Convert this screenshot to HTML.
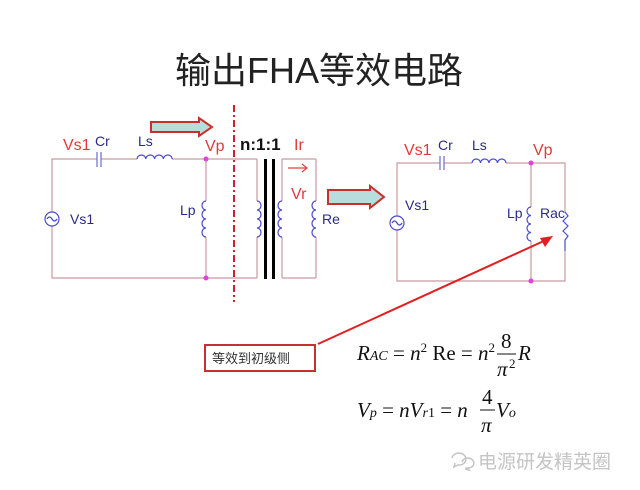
<!DOCTYPE html>
<html><head><meta charset="utf-8"><style>
html,body{margin:0;padding:0;background:#fff;}
svg{display:block;}
.t{font-family:"Liberation Sans","Noto Sans CJK SC",sans-serif;}
.s{font-family:"Liberation Serif",serif;font-size:21px;}
</style></head><body>
<svg width="640" height="490" viewBox="0 0 640 490" xmlns="http://www.w3.org/2000/svg">
<rect width="640" height="490" fill="#fff"/>
<text x="319" y="83" text-anchor="middle" class="t" font-size="36" fill="#222">输出FHA等效电路</text>

<g stroke="#c89a9f" stroke-width="1.2" fill="none">
<polyline points="97,159 52,159 52,212"/>
<polyline points="52,226 52,278 257,278"/>
<line x1="101" y1="159" x2="137" y2="159"/>
<line x1="172" y1="159" x2="257" y2="159"/>
<line x1="206" y1="159" x2="206" y2="201"/>
<line x1="206" y1="237" x2="206" y2="278"/>
<line x1="257" y1="159" x2="257" y2="201"/>
<line x1="257" y1="237" x2="257" y2="278"/>
<line x1="282" y1="159" x2="316" y2="159"/>
<line x1="282" y1="278" x2="316" y2="278"/>
<line x1="282" y1="159" x2="282" y2="201"/>
<line x1="282" y1="237" x2="282" y2="278"/>
<line x1="316" y1="159" x2="316" y2="201"/>
<line x1="316" y1="237" x2="316" y2="278"/>
</g>
<g stroke="#6a6ad0" stroke-width="1.2">
<line x1="97" y1="152" x2="97" y2="167"/><line x1="101" y1="152" x2="101" y2="167"/>
</g>
<g stroke="#4a4ad0" stroke-width="1.2" fill="none">
<path d="M137,159 a4.4,4 0 0 1 8.8,0 a4.4,4 0 0 1 8.8,0 a4.4,4 0 0 1 8.8,0 a4.4,4 0 0 1 8.8,0"/>
<path d="M206,201 a4,4.5 0 0 0 0,9 a4,4.5 0 0 0 0,9 a4,4.5 0 0 0 0,9 a4,4.5 0 0 0 0,9"/>
<path d="M257,201 a4,4.5 0 0 1 0,9 a4,4.5 0 0 1 0,9 a4,4.5 0 0 1 0,9 a4,4.5 0 0 1 0,9"/>
<path d="M282,201 a4,4.5 0 0 0 0,9 a4,4.5 0 0 0 0,9 a4,4.5 0 0 0 0,9 a4,4.5 0 0 0 0,9"/>
<path d="M316,201 a4,4.5 0 0 0 0,9 a4,4.5 0 0 0 0,9 a4,4.5 0 0 0 0,9 a4,4.5 0 0 0 0,9"/>
<circle cx="52" cy="219" r="7"/>
<path d="M47,219 q2.5,-4 5,0 q2.5,4 5,0"/>
</g>
<rect x="264" y="159" width="3" height="120" fill="#000"/>
<rect x="272" y="159" width="3" height="120" fill="#000"/>
<circle cx="206" cy="159" r="2.5" fill="#e040e0"/><circle cx="206" cy="278" r="2.5" fill="#e040e0"/>
<line x1="234" y1="105" x2="234" y2="302" stroke="#d02030" stroke-width="2" stroke-dasharray="7,3,2,3"/>
<path d="M151,122 H199 V118 L212,127 L199,136 V132 H151 Z" fill="#b9dcdc" stroke="#c8302a" stroke-width="2"/>
<path d="M288,168 H307 M302,164 L307,168 L302,172" stroke="#e04040" stroke-width="1.2" fill="none"/>
<g class="t" font-size="14">
<text x="63" y="150" fill="#e03a3a" font-size="16">Vs1</text>
<text x="95" y="146" fill="#2a2a8a">Cr</text>
<text x="138" y="146" fill="#2a2a8a">Ls</text>
<text x="205" y="151" fill="#e03a3a" font-size="16">Vp</text>
<text x="240" y="150" fill="#111" font-size="17" font-weight="bold">n:1:1</text>
<text x="294" y="150" fill="#e03a3a" font-size="16">Ir</text>
<text x="291" y="199" fill="#e03a3a" font-size="16">Vr</text>
<text x="322" y="224" fill="#2a2a8a">Re</text>
<text x="180" y="215" fill="#2a2a8a">Lp</text>
<text x="70" y="224" fill="#2a2a8a">Vs1</text>
</g>

<path d="M328,190 H370 V186 L384,197 L370,208 V204 H328 Z" fill="#b9dcdc" stroke="#c8302a" stroke-width="2"/>

<g stroke="#c89a9f" stroke-width="1.2" fill="none">
<polyline points="440,163 397,163 397,216"/>
<polyline points="397,230 397,281 565,281 565,251"/>
<line x1="444" y1="163" x2="472" y2="163"/>
<polyline points="506,163 565,163 565,212"/>
<line x1="531" y1="163" x2="531" y2="207"/>
<line x1="531" y1="241" x2="531" y2="281"/>
</g>
<g stroke="#6a6ad0" stroke-width="1.2">
<line x1="440" y1="156" x2="440" y2="170"/><line x1="444" y1="156" x2="444" y2="170"/>
</g>
<g stroke="#4a4ad0" stroke-width="1.2" fill="none">
<path d="M472,163 a4.25,4 0 0 1 8.5,0 a4.25,4 0 0 1 8.5,0 a4.25,4 0 0 1 8.5,0 a4.25,4 0 0 1 8.5,0"/>
<path d="M531,207 a4,4.25 0 0 0 0,8.5 a4,4.25 0 0 0 0,8.5 a4,4.25 0 0 0 0,8.5 a4,4.25 0 0 0 0,8.5"/>
<path d="M565,212 l3,4 l-5,5 l5,5 l-5,5 l5,5 l-3,4 v11"/>
<circle cx="397" cy="223" r="7"/>
<path d="M392,223 q2.5,-4 5,0 q2.5,4 5,0"/>
</g>
<circle cx="531" cy="163" r="2.5" fill="#e040e0"/><circle cx="531" cy="281" r="2.5" fill="#e040e0"/>
<g class="t" font-size="14">
<text x="404" y="155" fill="#e03a3a" font-size="16">Vs1</text>
<text x="438" y="150" fill="#2a2a8a">Cr</text>
<text x="472" y="150" fill="#2a2a8a">Ls</text>
<text x="533" y="155" fill="#e03a3a" font-size="16">Vp</text>
<text x="405" y="210" fill="#2a2a8a">Vs1</text>
<text x="507" y="218" fill="#2a2a8a">Lp</text>
<text x="540" y="218" fill="#2a2a8a">Rac</text>
</g>

<line x1="318" y1="344" x2="546" y2="240" stroke="#e02020" stroke-width="2"/>
<path d="M553,236 L540,238 L545,247 Z" fill="#e02020"/>
<rect x="205" y="345" width="110" height="26" fill="#fff" stroke="#c83030" stroke-width="2"/>
<text x="212" y="363" class="t" font-size="13" fill="#333">等效到初级侧</text>

<g class="s" fill="#111">
<text x="357" y="360"><tspan font-style="italic">R</tspan><tspan font-style="italic" font-size="14">AC</tspan> = <tspan font-style="italic">n</tspan><tspan font-size="13" dy="-8">2</tspan><tspan dy="8"> Re = </tspan><tspan font-style="italic">n</tspan><tspan font-size="13" dy="-8">2</tspan></text>
<text x="501" y="348">8</text>
<line x1="497" y1="354" x2="516" y2="354" stroke="#111" stroke-width="1"/>
<text x="497" y="376" font-style="italic">π</text><text x="509" y="368" font-size="13">2</text>
<text x="518" y="360" font-style="italic">R</text>

<text x="357" y="417"><tspan font-style="italic">V</tspan><tspan font-style="italic" font-size="14">p</tspan> = <tspan font-style="italic">nV</tspan><tspan font-style="italic" font-size="14">r</tspan><tspan font-size="14">1</tspan> = <tspan font-style="italic">n</tspan></text>
<text x="482" y="404">4</text>
<line x1="480" y1="410" x2="495" y2="410" stroke="#111" stroke-width="1"/>
<text x="481" y="432" font-style="italic">π</text>
<text x="496" y="417" font-style="italic">V<tspan font-size="14">o</tspan></text>
</g>

<g stroke="#c4c4c4" stroke-width="1.5" fill="none">
<path d="M452,458 a7,6 0 1 1 6,7 l-4,2 l1,-4"/>
<path d="M462,462 a6,5 0 1 1 5,6 l2,2 l-4,-1"/>
</g>
<text x="478" y="468" class="t" font-size="19" fill="#c4c4c4">电源研发精英圈</text>
</svg>
</body></html>
